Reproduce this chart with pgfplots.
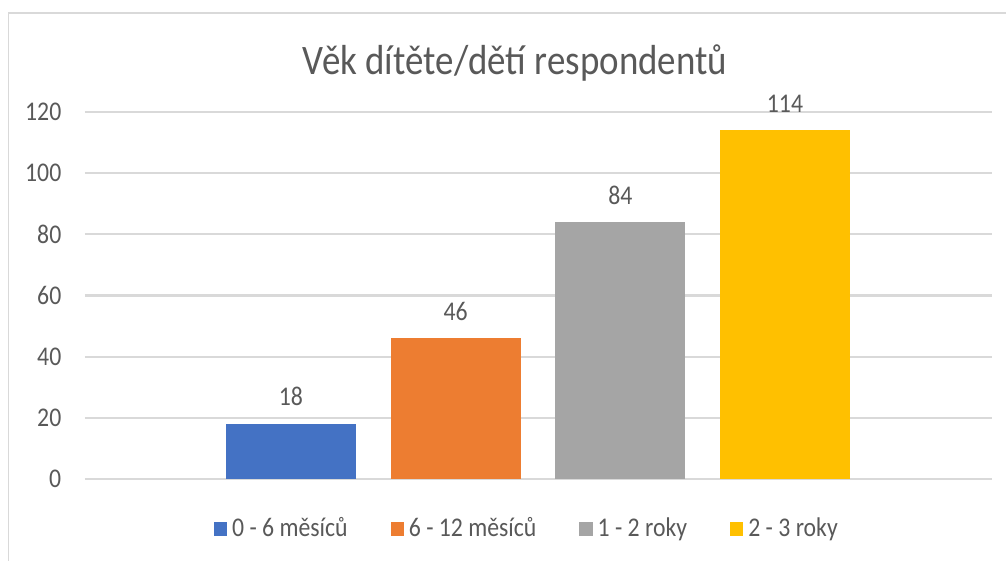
\documentclass[border=0pt]{standalone}
\usepackage{fontspec}
\setmainfont{Carlito}[FakeStretch=0.88]
\usepackage{pgfplots}
\pgfplotsset{compat=1.18}
\definecolor{txtgray}{HTML}{595959}
\definecolor{gridgray}{HTML}{D9D9D9}
\definecolor{sblue}{HTML}{4472C4}
\definecolor{sorange}{HTML}{ED7D31}
\definecolor{sgray}{HTML}{A5A5A5}
\definecolor{syellow}{HTML}{FFC000}

\begin{document}
\begin{tikzpicture}
\useasboundingbox (0,0) rectangle (335.33pt,186.67pt);
% chart frame (cut off at right and bottom like the reference)
\draw[gridgray, line width=0.5pt] (2.8pt,182.3pt) rectangle (345pt,-6pt);
\node[anchor=base, text=txtgray, font=\fontsize{14}{16}\selectfont] at (171.67pt,161.67pt) {Věk dítěte/dětí respondentů};
\begin{axis}[
  scale only axis,
  width=302.33pt, height=122.33pt,
  at={(28.33pt,27pt)}, anchor=south west,
  xmin=-0.251, xmax=5.257,
  ymin=0, ymax=120,
  ytick={0,20,...,120},
  xtick=\empty,
  axis line style={draw=none},
  major tick length=0pt,
  ymajorgrids,
  grid style={gridgray, line width=0.7pt},
  /pgf/number format/assume math mode=true,
  tick label style={font=\fontsize{9}{10.8}\selectfont, text=txtgray},
  yticklabel style={inner sep=0pt, xshift=-7.7pt},
  nodes near coords,
  nodes near coords style={font=\fontsize{9}{10.8}\selectfont, text=txtgray, inner sep=0pt, anchor=base, yshift=6pt},
  legend columns=4,
  legend style={at={(rel axis cs:0.486,-0.136)}, anchor=center, draw=none,
    font=\fontsize{9}{10.8}\selectfont, text=txtgray,
    nodes={inner sep=0pt},
    /tikz/every odd column/.append style={column sep=1.7pt},
    /tikz/every even column/.append style={column sep=14.3pt}},
  legend image code/.code={\fill[#1] (0pt,-2.2pt) rectangle (4.4pt,2.2pt);},
]
\addplot[ybar, bar shift=0pt, bar width=0.789, fill=sblue, draw=none] coordinates {(1,18)};
\addlegendentry{0 - 6 měsíců}
\addplot[ybar, bar shift=0pt, bar width=0.789, fill=sorange, draw=none] coordinates {(2,46)};
\addlegendentry{6 - 12 měsíců}
\addplot[ybar, bar shift=0pt, bar width=0.789, fill=sgray, draw=none] coordinates {(3,84)};
\addlegendentry{1 - 2 roky}
\addplot[ybar, bar shift=0pt, bar width=0.789, fill=syellow, draw=none] coordinates {(4,114)};
\addlegendentry{2 - 3 roky}
\end{axis}
\end{tikzpicture}
\end{document}
